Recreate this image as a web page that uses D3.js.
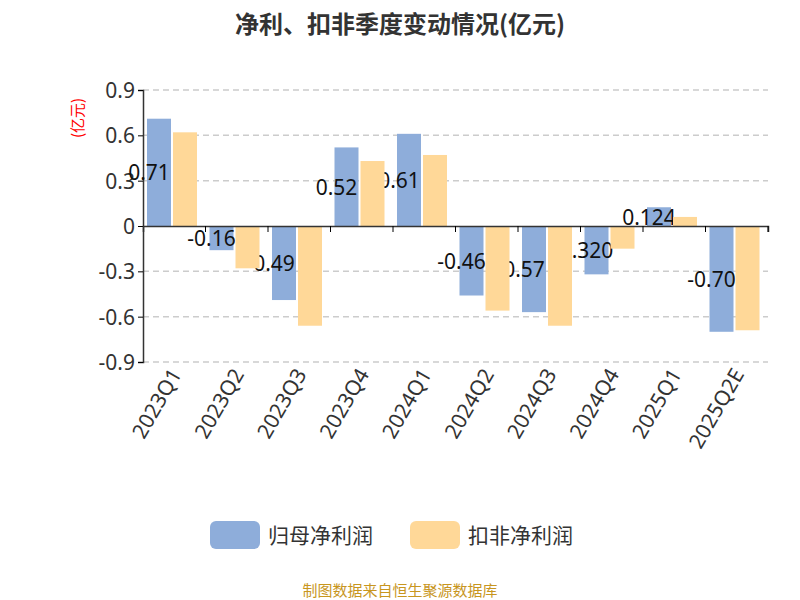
<!DOCTYPE html>
<html><head><meta charset="utf-8">
<script src="https://cdn.jsdelivr.net/npm/d3@7"></script>
<style>body{margin:0;background:#fff;font-family:"Noto Sans CJK SC","Noto Sans",sans-serif;}</style>
</head><body><svg id="chart" width="800" height="600"></svg>
<script>
let quarters = ['2023Q1','2023Q2','2023Q3','2023Q4','2024Q1','2024Q2','2024Q3','2024Q4','2025Q1','2025Q2E'];
let netProfit = [0.71, -0.16, -0.49, 0.52, 0.61, -0.46, -0.57, -0.32, 0.124, -0.70];
let deductedProfit = [0.62, -0.28, -0.66, 0.43, 0.47, -0.56, -0.66, -0.15, 0.06, -0.69];
let netLabels = ['0.71','-0.16','0.49','0.52','0.61','-0.46','0.57','0.320','0.124','-0.70'];
let yTicks = [0.9, 0.6, 0.3, 0, -0.3, -0.6, -0.9];

let svg = d3.select('#chart');
let margin = {left: 143, right: 32, top: 90, bottom: 238};
let width = 800 - margin.left - margin.right;
let height = 600 - margin.top - margin.bottom;
let g = svg.append('g').attr('transform', `translate(${margin.left},${margin.top})`);

let x = d3.scaleBand().domain(quarters).range([0, width]);
let y = d3.scaleLinear().domain([-0.9, 0.9]).range([height, 0]);

// Gridlines
g.selectAll('.grid').data(yTicks.filter(d => d !== 0)).enter().append('line')
    .attr('x1', 0).attr('x2', width)
    .attr('y1', d => y(d)).attr('y2', d => y(d))
    .attr('stroke', '#ccc').attr('stroke-dasharray', '6,4').attr('stroke-width', 1.5);

// Y axis
let yAxis = g.append('g').call(d3.axisLeft(y).tickValues(yTicks)
    .tickFormat(d => d === 0 ? '0' : d3.format('.1f')(d).replace('−', '-')).tickSize(5));
yAxis.select('.domain').attr('stroke', '#333').attr('stroke-width', 1.5);
yAxis.selectAll('text').attr('font-size', 21).attr('fill', '#333').attr('font-family', 'Noto Sans').attr('dy', '0.35em');

g.append('text').attr('transform', `translate(-60, 28) rotate(-90)`)
    .attr('text-anchor', 'middle').attr('fill', 'red').attr('font-size', 15).text('(亿元)');

let bw = 24;
// Blue bars
g.selectAll('.b1').data(quarters).enter().append('rect')
    .attr('x', d => x(d) + 4)
    .attr('y', (d, i) => y(Math.max(0, netProfit[i])))
    .attr('width', bw)
    .attr('height', (d, i) => Math.abs(y(netProfit[i]) - y(0)))
    .attr('fill', '#8eadda');

// Value labels (partly hidden by orange bars)
g.selectAll('.lbl').data(quarters).enter().append('text')
    .attr('x', d => x(d) + 6)
    .attr('y', (d, i) => (y(netProfit[i]) + y(0)) / 2 + 8)
    .attr('text-anchor', 'middle').attr('font-size', 21).attr('fill', '#111')
    .attr('font-family', 'Noto Sans')
    .text((d, i) => netLabels[i]);

// Orange bars
g.selectAll('.b2').data(quarters).enter().append('rect')
    .attr('x', d => x(d) + 4 + bw + 2)
    .attr('y', (d, i) => y(Math.max(0, deductedProfit[i])))
    .attr('width', bw)
    .attr('height', (d, i) => Math.abs(y(deductedProfit[i]) - y(0)))
    .attr('fill', '#ffd898');

// X axis at zero
let xAxis = g.append('g').attr('transform', `translate(0,${y(0)})`)
    .call(d3.axisBottom(x).tickSize(6).tickFormat(''));
xAxis.select('.domain').attr('stroke', '#333').attr('stroke-width', 1.5);
xAxis.selectAll('.tick line').attr('transform', `translate(${x.bandwidth() / 2},0)`);

// Rotated category labels
g.selectAll('.xl').data(quarters).enter().append('text')
    .attr('transform', d => `translate(${x(d) + x.bandwidth() / 2 + 8},${height + 12}) rotate(-60)`)
    .attr('text-anchor', 'end').attr('font-size', 21).attr('fill', '#333')
    .attr('font-family', 'Noto Sans')
    .text(d => d);

// Title
svg.append('text').attr('x', 400).attr('y', 33).attr('text-anchor', 'middle')
    .attr('font-size', 24).attr('font-weight', 'bold').attr('fill', '#333').text('净利、扣非季度变动情况(亿元)');

// Legend
let legend = [['归母净利润', '#8eadda', 210], ['扣非净利润', '#ffd898', 410]];
legend.forEach(l => {
    svg.append('rect').attr('x', l[2]).attr('y', 521).attr('width', 50).attr('height', 28).attr('rx', 6).attr('fill', l[1]);
    svg.append('text').attr('x', l[2] + 58).attr('y', 543).attr('font-size', 21).attr('fill', '#333').text(l[0]);
});

svg.append('text').attr('x', 400).attr('y', 596).attr('text-anchor', 'middle')
    .attr('font-size', 15).attr('fill', '#c8961e').text('制图数据来自恒生聚源数据库');
</script></body></html>
